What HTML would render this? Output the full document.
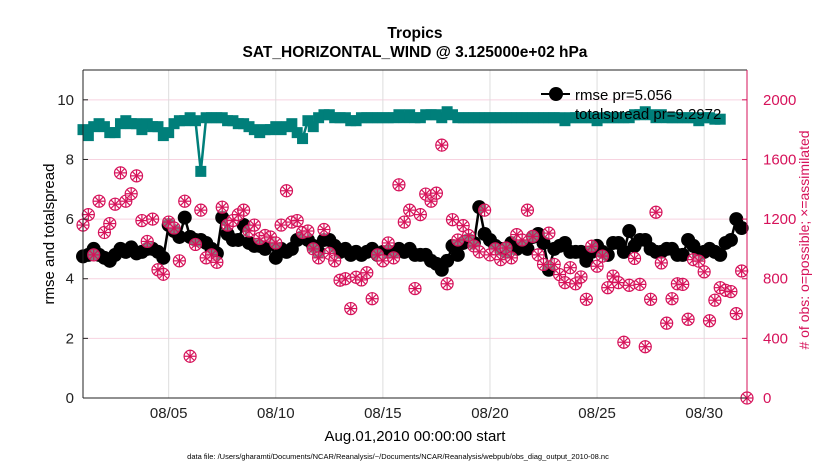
<!DOCTYPE html>
<html><head><meta charset="utf-8"><style>
body{margin:0;background:#fff;}
svg text{font-family:"Liberation Sans",Arial,sans-serif;}
</style></head><body>
<svg id="chart" width="830" height="470" xmlns="http://www.w3.org/2000/svg">
<rect width="830" height="470" fill="#fff"/>
<g id="grid"></g>
<g id="series"></g>
<g id="axes"></g>
<text x="415" y="38" text-anchor="middle" font-size="15.5" font-weight="bold">Tropics</text>
<text x="415" y="57" text-anchor="middle" font-size="15.5" font-weight="bold">SAT_HORIZONTAL_WIND @ 3.125000e+02 hPa</text>
<text transform="translate(54,234) rotate(-90)" text-anchor="middle" font-size="15">rmse and totalspread</text>
<text transform="translate(809,240) rotate(-90)" text-anchor="middle" font-size="14" fill="#d6125a"># of obs: o=possible; ×=assimilated</text>
<text x="415" y="441" text-anchor="middle" font-size="15">Aug.01,2010 00:00:00 start</text>
<text x="398" y="459" text-anchor="middle" font-size="7.5">data file: /Users/gharamti/Documents/NCAR/Reanalysis/~/Documents/NCAR/Reanalysis/webpub/obs_diag_output_2010-08.nc</text>
<g id="legend-layer"></g>
</svg>
<script>
const rmse=[4.75,4.8,5.0,4.8, 4.7,4.6,4.8,5.0, 4.9,5.05,4.85,4.9, 5.0,5.0,4.9,4.7, 5.8,5.6,5.4,6.05, 5.4,5.3,5.3,5.2, 5.0,4.85,6.05,5.5, 5.3,5.3,5.8,5.2, 5.1,5.1,5.0,5.2, 4.7,5.0,4.9,5.0, 5.3,5.4,5.3,5.1, 4.9,5.3,5.3,5.1, 4.9,5.0,4.8,4.9, 4.8,4.9,5.0,4.8, 4.9,4.9,4.9,5.0, 4.9,5.0,4.8,4.8, 4.8,4.6,4.5,4.3, 4.6,5.1,4.8,5.2, 5.3,5.2,6.4,5.5, 5.3,5.1,5.0,4.9, 5.2,5.0,5.1,5.0, 5.4,5.5,5.2,4.3, 5.0,5.1,5.2,4.9, 4.9,4.9,4.6,4.9, 5.1,4.9,4.8,5.2, 5.2,4.9,5.6,5.1, 5.3,5.3,5.0,4.9, 4.9,5.0,5.0,4.8, 4.8,5.3,5.1,4.8, 4.9,5.0,4.9,4.8, 5.2,5.3,6.0,5.7];
const spread=[9.0,8.8,9.1,9.2, 9.1,8.9,8.9,9.2, 9.3,9.2,9.2,9.0, 9.2,9.1,9.1,8.8, 8.9,9.2,9.3,9.3, 9.4,9.3,7.6,9.4, 9.4,9.4,9.4,9.3, 9.3,9.2,9.2,9.1, 9.0,8.9,9.0,9.0, 9.1,9.0,9.1,9.2, 8.9,8.7,9.3,9.1, 9.4,9.5,9.5,9.4, 9.4,9.4,9.3,9.3, 9.4,9.4,9.4,9.4, 9.4,9.4,9.4,9.5, 9.4,9.5,9.4,9.4, 9.5,9.5,9.5,9.4, 9.6,9.5,9.4,9.4, 9.4,9.4,9.4,9.4, 9.4,9.4,9.4,9.4, 9.4,9.4,9.4,9.4, 9.4,9.4,9.4,9.4, 9.4,9.4,9.3,9.4, 9.4,9.4,9.4,9.4, 9.3,9.4,9.4,9.4, 9.4,9.4,9.4,9.5, 9.5,9.6,9.5,9.4, 9.5,9.4,9.4,9.4, 9.4,9.4,9.4,9.3, 9.4,9.4,9.35,9.35];
const obsCount=[1160,1230,960,1320,1110,1170,1300,1510,1320,1370,1490,1190,1050,1200,860,830,1180,1140,920,1320,280,1030,1260,940,960,910,1280,1160,1190,1230,1260,1120,1160,1070,1090,1080,1040,1160,1390,1180,1190,1110,1120,1000,940,1130,970,920,790,800,600,810,792,840,666,960,920,1040,940,1430,1180,1260,734,1230,1368,1320,1374,1696,766,1196,1060,1156,1090,1020,980,1260,960,1000,928,1006,940,1096,1060,1260,1084,960,896,1106,896,828,774,874,766,812,662,1018,884,952,740,818,774,374,756,936,762,344,662,1246,906,502,666,766,762,528,928,918,846,518,656,740,722,714,566,852,0];
const leftTicks=[0,2,4,6,8,10];
const rightTicks=[0,400,800,1200,1600,2000];
const dateTicks=[5,10,15,20,25,30];
const dateLabels=["08/05","08/10","08/15","08/20","08/25","08/30"];
const startDay=1, stepDay=0.25;

const L=83,R=747,T=70,B=398;
const xs=d=>L+(d-1)*(R-L)/31;
const yl=v=>B-v*(B-T)/11;
const yr=c=>B-c*(B-T)/2200;
const NS="http://www.w3.org/2000/svg";
function mk(tag,attrs,parent){const e=document.createElementNS(NS,tag);for(const k in attrs)e.setAttribute(k,attrs[k]);parent.appendChild(e);return e;}
const grid=document.getElementById('grid'),ser=document.getElementById('series'),ax=document.getElementById('axes'),lg=document.getElementById('legend-layer');
const pink="#d6125a",teal="#007f7a";
leftTicks.forEach(v=>{
  if(v>0){const g=mk('line',{x1:L,x2:R,y1:yl(v),y2:yl(v),stroke:"#f7d3e0","stroke-width":1},grid);
  
  }
  const t=mk('text',{x:L-9,y:yl(v)+5,"text-anchor":"end","font-size":15,fill:"#222"},ax);t.textContent=v;
  
  
  mk('line',{x1:L,x2:L+5,y1:yl(v),y2:yl(v),stroke:"#222"},ax);
});
dateTicks.forEach((d,i)=>{
  const g=mk('line',{x1:xs(d),x2:xs(d),y1:T,y2:B,stroke:"#ddd","stroke-width":1},grid);
  
  
  const t=mk('text',{x:xs(d),y:418,"text-anchor":"middle","font-size":15,fill:"#222"},ax);t.textContent=dateLabels[i];
  
  
});
rightTicks.forEach(c=>{
  const t=mk('text',{x:R+16,y:yr(c)+5,"font-size":15,fill:pink},ax);t.textContent=c;
  
  
  mk('line',{x1:R-5,x2:R,y1:yr(c),y2:yr(c),stroke:pink},ax);
});
mk('line',{x1:L,x2:R,y1:T,y2:T,stroke:"#222"},ax);
mk('line',{x1:L,x2:R,y1:B,y2:B,stroke:"#222"},ax);
mk('line',{x1:L,x2:L,y1:T,y2:B,stroke:"#222"},ax);
mk('line',{x1:R,x2:R,y1:T,y2:B,stroke:pink},ax);
// spread
const sp=mk('polyline',{points:spread.map((v,i)=>xs(startDay+i*stepDay)+","+yl(v)).join(" "),fill:"none",stroke:teal,"stroke-width":2.5},ser);


spread.forEach((v,i)=>{const r=mk('rect',{x:xs(startDay+i*stepDay)-5.5,y:yl(v)-5.5,width:11,height:11,fill:teal},ser);
  
  });
// rmse
const rl=mk('polyline',{points:rmse.map((v,i)=>xs(startDay+i*stepDay)+","+yl(v)).join(" "),fill:"none",stroke:"#000","stroke-width":2.5},ser);


rmse.forEach((v,i)=>{const c=mk('circle',{cx:xs(startDay+i*stepDay),cy:yl(v),r:7,fill:"#000"},ser);
  
  });
// obs
obsCount.forEach((c,i)=>{
  const x=xs(startDay+i*stepDay),y=yr(c);
  const g=mk('g',{stroke:pink,"stroke-width":1.2,fill:"none"},ser);
  
  
  mk('circle',{cx:x,cy:y,r:6,fill:"rgba(255,255,255,0.5)"},g);
  mk('line',{x1:x-6,x2:x+6,y1:y,y2:y},g);
  mk('line',{x1:x,x2:x,y1:y-6.5,y2:y+6.5},g);
  mk('line',{x1:x-4,x2:x+4,y1:y-4,y2:y+4},g);
  mk('line',{x1:x-4,x2:x+4,y1:y+4,y2:y-4},g);
});
// legend on top
const lgr=mk('g',{},lg);


mk('line',{x1:541,y1:94,x2:570,y2:94,stroke:"#000","stroke-width":2},lgr);
mk('circle',{cx:556,cy:94,r:7,fill:"#000"},lgr);
const t1=mk('text',{x:575,y:100,"font-size":15},lgr);t1.textContent="rmse pr=5.056";


const t2=mk('text',{x:575,y:119,"font-size":15},lgr);t2.textContent="totalspread pr=9.2972";


</script>
</body></html>
